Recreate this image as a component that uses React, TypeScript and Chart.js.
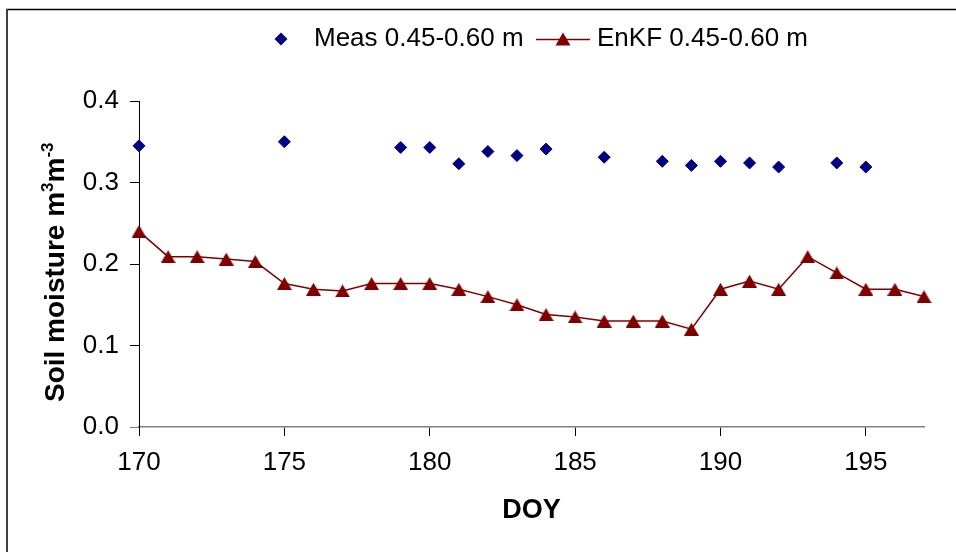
import { useEffect, useRef } from 'react';
import { Chart, registerables } from 'chart.js';

Chart.register(...registerables);

// ---- data ----
const measDays = [170, 175, 179, 180, 181, 182, 183, 184, 186, 188, 189, 190, 191, 192, 194, 195];
const measValues = [0.345, 0.350, 0.343, 0.343, 0.323, 0.338, 0.333, 0.341, 0.331, 0.326, 0.321, 0.326, 0.324, 0.319, 0.324, 0.319];

const enkfDays = [170, 171, 172, 173, 174, 175, 176, 177, 178, 179, 180, 181, 182, 183, 184, 185, 186, 187, 188, 189, 190, 191, 192, 193, 194, 195, 196, 197];
const enkfValues = [0.240, 0.209, 0.209, 0.206, 0.203, 0.176, 0.169, 0.167, 0.176, 0.176, 0.176, 0.169, 0.160, 0.150, 0.138, 0.135, 0.130, 0.130, 0.130, 0.120, 0.169, 0.179, 0.169, 0.209, 0.189, 0.169, 0.169, 0.160];

const measLabel = 'Meas 0.45-0.60 m';
const enkfLabel = 'EnKF 0.45-0.60 m';
const xTitle = 'DOY';
const yTitleMain = 'Soil moisture m';
const yTitleSup1 = '3';
const yTitleMid = 'm';
const yTitleSup2 = '-3';

const xMin = 170;
const xMax = 197;
const xStep = 5;
const yMin = 0;
const yMax = 0.4;
const yStep = 0.1;

const MEAS_COLOR = '#000080';
const ENKF_COLOR = '#800000';
const FONT = '"Liberation Sans", Arial, Helvetica, sans-serif';

function makeTriangle(w: number, h: number, color: string) {
  const c = document.createElement('canvas');
  c.width = w;
  c.height = h;
  const g = c.getContext('2d')!;
  g.fillStyle = color;
  g.beginPath();
  g.moveTo(w / 2, 0);
  g.lineTo(w, h);
  g.lineTo(0, h);
  g.closePath();
  g.fill();
  return c;
}

const framePlugin = {
  id: 'frame',
  beforeDraw(chart: any) {
    const ctx = chart.ctx;
    ctx.save();
    ctx.fillStyle = '#ffffff';
    ctx.fillRect(0, 0, chart.width, chart.height);
    ctx.strokeStyle = '#000000';
    ctx.lineWidth = 1.5;
    ctx.beginPath();
    ctx.moveTo(6, 9.5);
    ctx.lineTo(chart.width, 9.5);
    ctx.stroke();
    ctx.strokeStyle = '#404040';
    ctx.lineWidth = 2;
    ctx.beginPath();
    ctx.moveTo(7, 9);
    ctx.lineTo(7, chart.height);
    ctx.stroke();
    ctx.restore();
  },
};

const annotPlugin = {
  id: 'annot',
  afterDraw(chart: any) {
    const ctx = chart.ctx;
    ctx.save();
    // ---- legend ----
    const ly = 39;
    ctx.fillStyle = MEAS_COLOR;
    ctx.beginPath();
    ctx.moveTo(281 - 6.5, ly);
    ctx.lineTo(281, ly - 6.5);
    ctx.lineTo(281 + 6.5, ly);
    ctx.lineTo(281, ly + 6.5);
    ctx.closePath();
    ctx.fill();
    ctx.fillStyle = '#000';
    ctx.font = `26px ${FONT}`;
    ctx.textBaseline = 'alphabetic';
    ctx.textAlign = 'left';
    ctx.fillText(measLabel, 314, 46);

    ctx.strokeStyle = ENKF_COLOR;
    ctx.lineWidth = 1.5;
    ctx.beginPath();
    ctx.moveTo(536, ly + 0.5);
    ctx.lineTo(590, ly + 0.5);
    ctx.stroke();
    ctx.fillStyle = ENKF_COLOR;
    ctx.beginPath();
    ctx.moveTo(563, ly - 6.5);
    ctx.lineTo(570.5, ly + 6.5);
    ctx.lineTo(555.5, ly + 6.5);
    ctx.closePath();
    ctx.fill();
    ctx.fillStyle = '#000';
    ctx.fillText(enkfLabel, 597, 46);

    // ---- y-axis title with superscripts ----
    const big = `bold 28px ${FONT}`;
    const small = `bold 17px ${FONT}`;
    const parts = [
      { t: yTitleMain, f: big, dy: 0 },
      { t: yTitleSup1, f: small, dy: -11 },
      { t: yTitleMid, f: big, dy: 0 },
      { t: yTitleSup2, f: small, dy: -11 },
    ];
    ctx.translate(54, 402);
    ctx.rotate(-Math.PI / 2);
    ctx.fillStyle = '#000';
    ctx.textAlign = 'left';
    ctx.textBaseline = 'alphabetic';
    let u = 0;
    for (const p of parts) {
      ctx.font = p.f;
      ctx.fillText(p.t, u, 10 + p.dy);
      u += ctx.measureText(p.t).width;
    }
    ctx.restore();
  },
};

export default function App() {
  const ref = useRef<HTMLCanvasElement | null>(null);

  useEffect(() => {
    if (!ref.current) return;
    Chart.defaults.font.family = FONT;
    const tri = makeTriangle(15, 13, ENKF_COLOR);
    const chart = new Chart(ref.current, {
      type: 'line',
      data: {
        datasets: [
          {
            label: measLabel,
            data: measDays.map((d, i) => ({ x: d, y: measValues[i] })),
            showLine: false,
            pointStyle: 'rectRot',
            pointRadius: 6,
            pointBackgroundColor: MEAS_COLOR,
            pointBorderColor: MEAS_COLOR,
            pointBorderWidth: 1,
            borderColor: MEAS_COLOR,
            backgroundColor: MEAS_COLOR,
            clip: false,
          } as any,
          {
            label: enkfLabel,
            data: enkfDays.map((d, i) => ({ x: d, y: enkfValues[i] })),
            showLine: true,
            borderColor: ENKF_COLOR,
            borderWidth: 1.5,
            pointStyle: tri,
            pointRadius: 7.5,
            pointBackgroundColor: ENKF_COLOR,
            pointBorderColor: ENKF_COLOR,
            pointBorderWidth: 0,
            backgroundColor: ENKF_COLOR,
            tension: 0,
            clip: false,
          } as any,
        ],
      },
      options: {
        animation: false,
        responsive: true,
        maintainAspectRatio: false,
        layout: { padding: { left: 0, right: 32, top: 101, bottom: 0 } },
        plugins: {
          legend: { display: false },
          tooltip: { enabled: false },
        },
        scales: {
          x: {
            type: 'linear',
            min: xMin,
            max: xMax,
            afterFit: (s: any) => {
              s.height = 125;
            },
            ticks: {
              stepSize: xStep,
              includeBounds: false,
              color: '#000',
              font: { size: 26 },
              padding: 11,
              maxRotation: 0,
              callback: (v: any) => String(v),
            },
            grid: {
              drawOnChartArea: false,
              drawTicks: true,
              tickLength: 9,
              color: '#000',
              lineWidth: 1,
            },
            border: { color: '#808080', width: 1.5 },
            title: {
              display: true,
              text: xTitle,
              color: '#000',
              font: { size: 27, weight: 'bold' },
              padding: { top: 0, bottom: 25 },
            },
          },
          y: {
            type: 'linear',
            min: yMin,
            max: yMax,
            afterFit: (s: any) => {
              s.width = 139;
            },
            ticks: {
              stepSize: yStep,
              color: '#000',
              font: { size: 26 },
              padding: 11,
              callback: (v: any) => Number(v).toFixed(1),
            },
            grid: {
              drawOnChartArea: false,
              drawTicks: true,
              tickLength: 9,
              color: (c: any) => (c.tick && c.tick.value === 0 ? '#808080' : '#000'),
              lineWidth: 1,
            },
            border: { color: '#000', width: 1 },
          },
        },
      } as any,
      plugins: [framePlugin, annotPlugin],
    });
    return () => chart.destroy();
  }, []);

  return (
    <div style={{ position: 'fixed', left: 0, top: 0, width: 956, height: 552, background: '#fff' }}>
      <canvas ref={ref} />
    </div>
  );
}
